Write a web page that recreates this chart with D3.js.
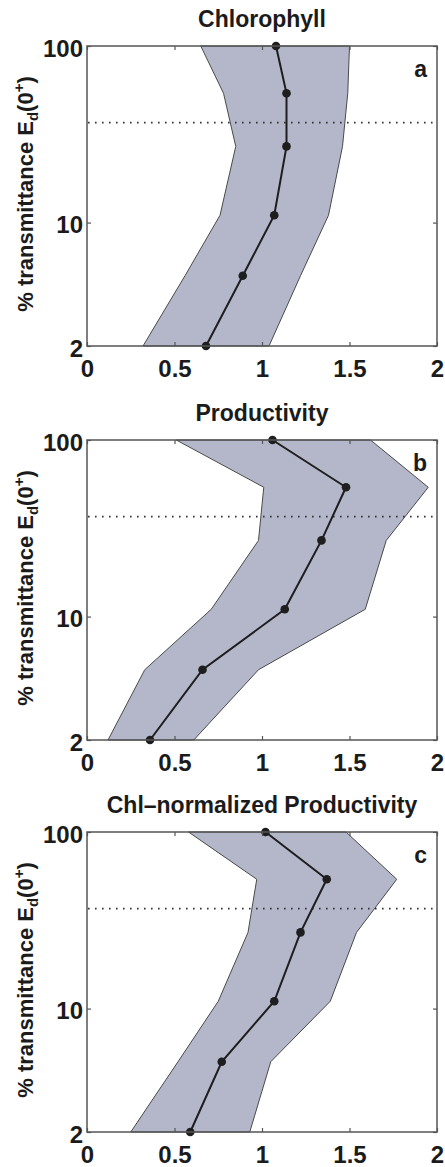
<!DOCTYPE html>
<html>
<head>
<meta charset="utf-8">
<script src="https://cdn.jsdelivr.net/npm/d3@7"></script>
<style>
  body { margin: 0; background: #fff; }
  text { font-family: "Liberation Sans", Arial, Helvetica, sans-serif; font-weight: bold; fill: #1b1b1b; }
</style>
</head>
<body>
<div id="canvas"></div>
<script>
// light levels (% transmittance) of the samples
var levels = [100, 54, 27, 11, 5, 2];
var euphoticLevel = 36.8; // dotted line

// a - chlorophyll
var chlMean = [1.08, 1.14, 1.14, 1.07, 0.89, 0.68];
var chlLow  = [0.65, 0.78, 0.85, 0.76, 0.56, 0.32];
var chlHigh = [1.50, 1.49, 1.46, 1.38, 1.22, 1.04];

// b - productivity
var prodMean = [1.06, 1.48, 1.34, 1.13, 0.66, 0.36];
var prodLow  = [0.51, 1.01, 0.98, 0.71, 0.33, 0.12];
var prodHigh = [1.62, 1.95, 1.71, 1.59, 0.98, 0.61];

// c - chl-normalized productivity
var normMean = [1.02, 1.37, 1.22, 1.07, 0.77, 0.59];
var normLow  = [0.58, 0.97, 0.92, 0.75, 0.52, 0.25];
var normHigh = [1.48, 1.77, 1.54, 1.39, 1.05, 0.93];

var titles = ["Chlorophyll", "Productivity", "Chl\u2013normalized Productivity"];
var letters = ["a", "b", "c"];
var xTicks = [0, 0.5, 1, 1.5, 2];
var yTicks = [2, 10, 100];

var means = [chlMean, prodMean, normMean];
var lows = [chlLow, prodLow, normLow];
var highs = [chlHigh, prodHigh, normHigh];

var width = 445, height = 1167;
var left = 87, plotW = 350, plotH = 300;
var tops = [46, 440, 832];

var svg = d3.select("#canvas").append("svg")
    .attr("width", width)
    .attr("height", height);

var x = d3.scaleLinear().domain([0, 2]).range([0, plotW]);
var y = d3.scaleLog().domain([2, 100]).range([plotH, 0]);

for (var p = 0; p < 3; p++) {
    var rows = levels.map(function (lv, i) {
        return {level: lv, mean: means[p][i], low: lows[p][i], high: highs[p][i]};
    });

    var g = svg.append("g").attr("transform", "translate(" + left + "," + tops[p] + ")");

    // shaded range
    var band = d3.area()
        .y(function (d) { return y(d.level); })
        .x0(function (d) { return x(d.low); })
        .x1(function (d) { return x(d.high); });
    g.append("path").datum(rows)
        .attr("d", band)
        .attr("fill", "#b3b7c9")
        .attr("stroke", "#4a4a4a")
        .attr("stroke-width", 1);

    // dotted line
    g.append("line")
        .attr("x1", x(0)).attr("x2", x(2))
        .attr("y1", y(euphoticLevel)).attr("y2", y(euphoticLevel))
        .attr("stroke", "#333")
        .attr("stroke-width", 1.6)
        .attr("stroke-dasharray", "1.6,5.4")
        .attr("stroke-dashoffset", -8);

    // mean profile
    var line = d3.line()
        .x(function (d) { return x(d.mean); })
        .y(function (d) { return y(d.level); });
    g.append("path").datum(rows)
        .attr("d", line)
        .attr("fill", "none")
        .attr("stroke", "#1e1e1e")
        .attr("stroke-width", 2);
    g.selectAll("circle").data(rows).enter().append("circle")
        .attr("cx", function (d) { return x(d.mean); })
        .attr("cy", function (d) { return y(d.level); })
        .attr("r", 4.3)
        .attr("fill", "#1e1e1e");

    // axes
    var bottom = g.append("g").attr("transform", "translate(0," + plotH + ")")
        .call(d3.axisBottom(x).tickValues(xTicks).tickFormat(function (d) { return d; })
            .tickSize(-4).tickPadding(14));
    var leftAx = g.append("g")
        .call(d3.axisLeft(y).tickValues(yTicks).tickFormat(function (d) { return d; })
            .tickSize(-4).tickPadding(4));
    g.append("g")
        .call(d3.axisTop(x).tickValues(xTicks).tickFormat("").tickSize(-4));
    g.append("g").attr("transform", "translate(" + plotW + ",0)")
        .call(d3.axisRight(y).tickValues(yTicks).tickFormat("").tickSize(-4));

    g.selectAll(".domain").remove();
    g.selectAll(".tick line").attr("stroke", "#555").attr("stroke-width", 1.2);
    g.selectAll(".tick text").style("font-size", "24px").attr("fill", "#1b1b1b")
        .style("font-family", "'Liberation Sans', Arial, sans-serif").style("font-weight", "bold");
    leftAx.selectAll(".tick text").attr("dy", "0.42em");

    g.append("rect")
        .attr("width", plotW).attr("height", plotH)
        .attr("fill", "none")
        .attr("stroke", "#555")
        .attr("stroke-width", 1.5);

    // title + panel letter
    g.append("text")
        .attr("x", plotW / 2).attr("y", -19)
        .attr("text-anchor", "middle")
        .style("font-size", "23px")
        .text(titles[p]);
    g.append("text")
        .attr("x", plotW - 10).attr("y", 31)
        .attr("text-anchor", "end")
        .style("font-size", "23px")
        .text(letters[p]);

    // y label
    var yl = g.append("text")
        .attr("transform", "translate(" + (33 - left) + "," + (plotH / 2 - 2) + ") rotate(-90)")
        .attr("text-anchor", "middle")
        .style("font-size", "22px");
    yl.append("tspan").text("% transmittance E");
    yl.append("tspan").attr("dy", 5).style("font-size", "15px").text("d");
    yl.append("tspan").attr("dy", -5).text("(0");
    yl.append("tspan").attr("dy", -9).style("font-size", "15px").text("+");
    yl.append("tspan").attr("dy", 9).text(")");
}
</script>
</body>
</html>
